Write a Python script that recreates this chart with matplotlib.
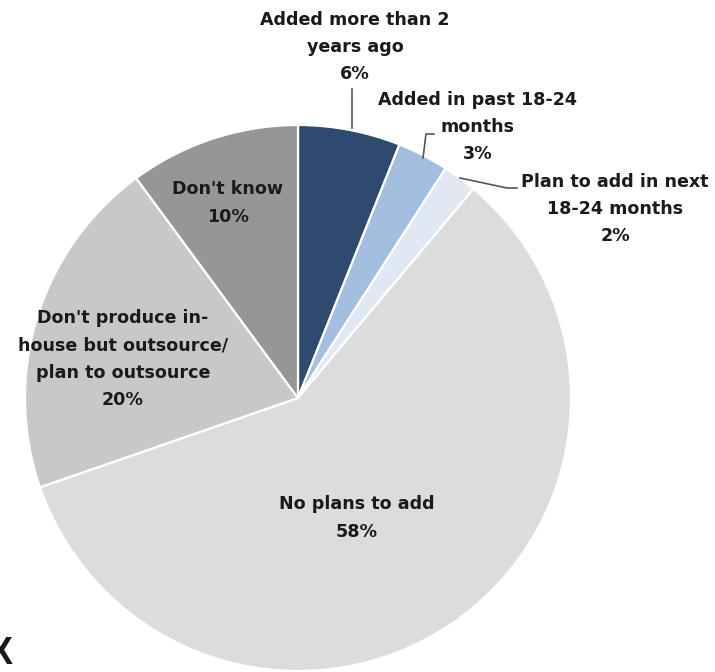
import matplotlib
matplotlib.use("Agg")
import matplotlib.pyplot as plt

# Survey shares, clockwise from 12 o'clock
labels = [
    "Added more than 2\nyears ago",
    "Added in past 18-24\nmonths",
    "Plan to add in next\n18-24 months",
    "No plans to add",
    "Don't produce in-\nhouse but outsource/\nplan to outsource",
    "Don't know",
]
values = [6, 3, 2, 58, 20, 10]
colors = ["#2e4a6f", "#a3bfe0", "#dfe8f3", "#dcdcdc", "#c8c8c8", "#969696"]

W, H = 715, 672
fig = plt.figure(figsize=(W / 100, H / 100), dpi=100)
ax = fig.add_axes([0, 0, 1, 1])
ax.axis("off")

cx, cy, r = 298, H - 398, 273
ax.pie(values, colors=colors, startangle=90, counterclock=False,
       center=(cx, cy), radius=r, normalize=True,
       wedgeprops=dict(edgecolor="white", linewidth=1.6))
ax.set_xlim(0, W)
ax.set_ylim(0, H)
ax.set_aspect("equal")

font = dict(family=["DejaVu Sans"], fontweight="bold",
            fontsize=12.6, color="#1a1a1a", ha="center", va="center",
            linespacing=1.66)

def py(y):
    return H - y

# (label index, x, y of text block centre in pixels from top)
positions = [
    (0, 355, 47),
    (1, 478, 127),
    (2, 615, 209),
    (3, 357, 518),
    (4, 123, 359),
    (5, 228, 203),
]
for i, x, y in positions:
    ax.text(x, py(y), f"{labels[i]}\n{values[i]}%", **font)

# leader lines
lc = dict(color="#555555", linewidth=1.2)
ax.plot([352, 352], [py(89), py(128)], **lc)
ax.plot([434, 426, 423], [py(134), py(134), py(158)], **lc)
ax.plot([517, 507, 460], [py(188), py(188), py(178)], **lc)

# partially cropped letter at the lower left
ax.text(0, py(654), "X", fontsize=27, fontweight="bold", color="#1a1a1a",
        family=["Liberation Sans", "DejaVu Sans"], ha="center", va="center")

fig.savefig("out.png", dpi=100)
